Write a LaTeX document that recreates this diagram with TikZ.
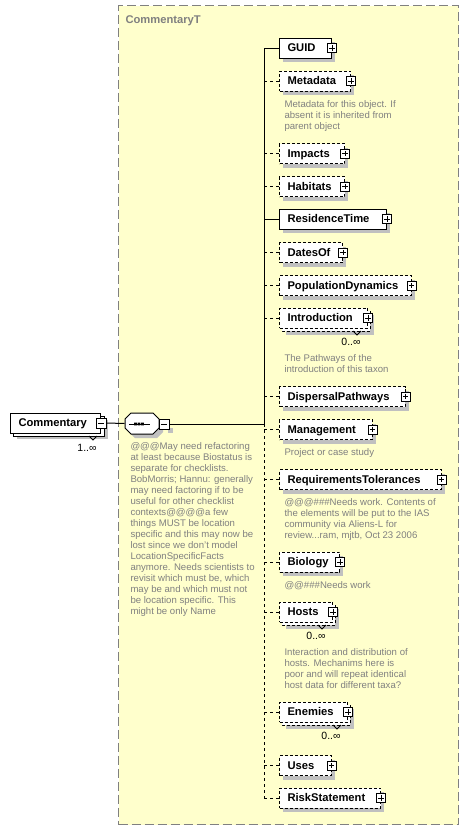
\documentclass[tikz,border=0pt]{standalone}
\usepackage{fontspec}
\setmainfont{Liberation Sans}
\usetikzlibrary{calc}
\definecolor{typefill}{RGB}{255,255,204}
\definecolor{typeline}{RGB}{128,128,128}
\definecolor{shadowc}{RGB}{192,192,192}
\definecolor{commc}{RGB}{128,128,128}
\tikzset{
  lbl/.style={font=\bfseries\fontsize{11.2}{13}\selectfont},
  elbox/.style={draw, fill=white, anchor=west, inner xsep=8pt, inner ysep=0pt, minimum height=20pt, text height=8.2pt, text depth=1pt, align=left, lbl},
  req/.style={},
  opt/.style={dash pattern=on 3pt off 2pt},
  reqc/.style={},
  optc/.style={dash pattern=on 3pt off 3pt},
  plusbox/.style={draw, solid, fill=white, minimum size=9pt, inner sep=0pt,
    path picture={\draw ([xshift=1.8pt]path picture bounding box.west) -- ([xshift=-1.8pt]path picture bounding box.east);
                  \draw ([yshift=-1.8pt]path picture bounding box.north) -- ([yshift=1.8pt]path picture bounding box.south);}},
  minusbox/.style={draw, solid, fill=white, minimum size=10pt, inner sep=0pt,
    path picture={\draw ([xshift=1.8pt]path picture bounding box.west) -- ([xshift=-1.8pt]path picture bounding box.east);}},
  comm/.style={anchor=north west, inner sep=0pt, align=left, text=commc, font=\fontsize{9.6}{11}\selectfont},
  mult/.style={inner sep=0pt, font=\fontsize{10.5}{12}\selectfont},
  typebox/.style={fill=typefill, draw=typeline, dash pattern=on 9pt off 4pt, anchor=north west, inner sep=0pt},
}
\newcommand{\xel}[5]{%
  \fill[shadowc] (283,#2-6) rectangle (#3+4,#2+14);
  \pgfmathsetmacro\xtw{#3-279-16}%
  \node[elbox,#5,text width=\xtw pt] (#1) at (279,#2) {#4};
  \node[plusbox] (#1p) at (#1.east) {};
  \coordinate (#1s) at (264,#2);
  \draw[#5c] (#1s) -- (#1.west);
}
\newcommand{\xelm}[6]{%
  \fill[shadowc] (286,#2-3) rectangle (#3+7,#2+17);
  \draw[fill=white,#5] (282,#2-7) rectangle (#3+3,#2+13);
  \pgfmathsetmacro\xtw{#3-279-16}%
  \node[elbox,#5,text width=\xtw pt] (#1) at (279,#2) {#4};
  \node[plusbox] (#1p) at (#1.east) {};
  \draw[line width=0.8pt] (#3-14,#2+13) -- (#3-10,#2+17) -- (#3-6,#2+13);
  \node[mult] (#1m) at (#3-16,#2+24) {#6};
  \coordinate (#1s) at (264,#2);
  \draw[#5c] (#1s) -- (#1.west);
}
\begin{document}
\begin{tikzpicture}[x=1pt,y=-1pt,line width=1pt]
\useasboundingbox (0,0) rectangle (469,830);
% complex type container
\node[typebox, minimum width=340pt, minimum height=819pt] (ctype) at (118,5) {};
\node[anchor=base west, inner sep=0pt, lbl, text=typeline] (title) at (125,23) {CommentaryT};

% root element
\fill[shadowc] (17,420) rectangle (108,439);
\draw[fill=white] (13,416) rectangle (104,436);
\node[elbox, text width=74pt] (root) at (10,423) {Commentary};
\node[minusbox] (rootm) at (root.east) {};
\draw[line width=0.8pt] (89,436) -- (93,440) -- (97,436);
\node[mult] (rootmult) at (87,448) {1..∞};

% sequence compositor
\node[minimum width=34pt, minimum height=21pt, inner sep=0pt] (seq) at (142,423.5) {};
\fill[shadowc] (129,423)--(135,417)--(157,417)--(163,423)--(163,432)--(157,438)--(135,438)--(129,432)--cycle;
\draw[fill=white] (125,419)--(131,413)--(153,413)--(159,419)--(159,428)--(153,434)--(131,434)--(125,428)--cycle;
\draw (129,424) -- (150,424);
\fill (134.2,422.7) rectangle (136.8,425.3) (137.7,422.7) rectangle (140.3,425.3) (141.2,422.7) rectangle (143.8,425.3);
\fill[shadowc] (168,428) rectangle (173,433);
\node[minusbox] (seqm) at (164,424) {};
\draw (rootm.east) -- (seq.west);
\node[comm] (cseq) at (130,442) {@@@May need refactoring\\at least because Biostatus is\\separate for checklists.\\BobMorris; Hannu: generally\\may need factoring if to be\\useful for other checklist\\contexts@@@@a few\\things MUST be location\\specific and this may now be\\lost since we don't model\\LocationSpecificFacts\\anymore. Needs scientists to\\revisit which must be, which\\may be and which must not\\be location specific. This\\might be only Name};

% children
\xel{guid}{48}{331}{GUID}{req}
\xel{meta}{81}{350}{Metadata}{opt}
\xel{imp}{153.5}{344}{Impacts}{opt}
\xel{hab}{186.5}{344}{Habitats}{opt}
\xel{res}{219}{386}{ResidenceTime}{req}
\xel{dat}{252.5}{342}{DatesOf}{opt}
\xel{pop}{285.5}{410.5}{PopulationDynamics}{opt}
\xelm{intro}{318}{367}{Introduction}{opt}{0..∞}
\xel{disp}{396.5}{404.5}{DispersalPathways}{opt}
\xel{man}{429.5}{371.5}{Management}{opt}
\xel{reqt}{479.5}{440.5}{RequirementsTolerances}{opt}
\xel{bio}{562}{339}{Biology}{opt}
\xelm{hosts}{612}{332}{Hosts}{opt}{0..∞}
\xelm{enem}{712}{347}{Enemies}{opt}{0..∞}
\xel{uses}{765.5}{330.5}{Uses}{opt}
\xel{risk}{798}{380}{RiskStatement}{opt}

% spine
\coordinate (spmid) at (264,424);
\draw (guids) -- (spmid);
\draw[optc] (spmid) -- (risks);
\draw (seqm.east) -- (spmid);

% annotations
\node[comm] (cmeta) at (284,99.7) {Metadata for this object. If\\absent it is inherited from\\parent object};
\node[comm] (cintro) at (284,354.4) {The Pathways of the\\introduction of this taxon};
\node[comm] (cman) at (284,448) {Project or case study};
\node[comm] (creqt) at (284,498) {@@@\#\#\#Needs work. Contents of\\the elements will be put to the IAS\\community via Aliens-L for\\review...ram, mjtb, Oct 23 2006};
\node[comm] (cbio) at (284,581.4) {@@\#\#\#Needs work};
\node[comm] (chosts) at (284,648) {Interaction and distribution of\\hosts. Mechanims here is\\poor and will repeat identical\\host data for different taxa?};
\end{tikzpicture}
\end{document}
